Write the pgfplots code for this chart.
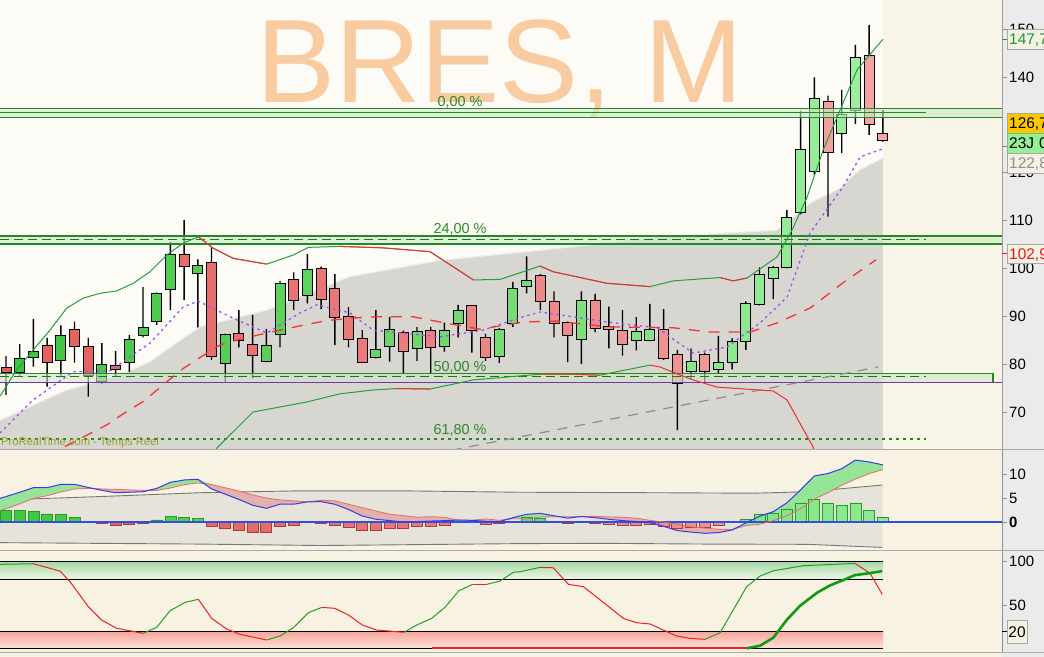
\documentclass[border=0pt]{standalone}
\usepackage{fontspec}
\setmainfont{Liberation Sans}
\usepackage{pgfplots}
\pgfplotsset{compat=1.18}
\usepackage{pgfplotstable}

\definecolor{rightbg}{HTML}{EBEBEB}
\definecolor{mainbg}{HTML}{FCFBF6}
\definecolor{mainbg2}{HTML}{F8F5E8}
\definecolor{panelbg}{HTML}{F7F2E1}
\definecolor{greyarea}{HTML}{D8D6D0}
\definecolor{greyedge}{HTML}{EEEEEE}
\definecolor{fibgreen}{HTML}{1E8C1E}
\definecolor{fibdash}{HTML}{2A6A2A}
\definecolor{fibfill}{HTML}{CFE6C8}
\definecolor{fibtext}{HTML}{2A8A2A}
\definecolor{titlecol}{HTML}{F8CBA0}
\definecolor{cgreenD}{HTML}{3FC43F}
\definecolor{cgreenL}{HTML}{9CEE9C}
\definecolor{credD}{HTML}{E45C5C}
\definecolor{credL}{HTML}{F5A5A5}
\definecolor{bbgreen}{HTML}{22A03C}
\definecolor{bbred}{HTML}{F03030}
\definecolor{mapurple}{HTML}{A050F5}
\definecolor{mared}{HTML}{F03535}
\definecolor{trendgrey}{HTML}{8C8C8C}
\definecolor{prtcol}{HTML}{9E9E28}
\definecolor{axisgrey}{HTML}{909090}
\definecolor{sepgrey}{HTML}{AAAAAA}
\definecolor{mbandfill}{HTML}{E6E3DA}
\definecolor{mbandline}{HTML}{777777}
\definecolor{hgreenD}{HTML}{279A27}
\definecolor{hgreenA}{HTML}{3FC83F}
\definecolor{hgreenB}{HTML}{8FEA8F}
\definecolor{hredD}{HTML}{B03A3A}
\definecolor{hredA}{HTML}{DE5656}
\definecolor{hredB}{HTML}{F4A0A0}
\definecolor{fgreen}{HTML}{96E496}
\definecolor{fred}{HTML}{E2B2AA}
\definecolor{mblue}{HTML}{3838F0}
\definecolor{zblue}{HTML}{2E4FE0}
\definecolor{sigred}{HTML}{E86A6A}
\definecolor{sgreenT}{HTML}{A8D8A8}
\definecolor{sgreenB}{HTML}{EEF6E4}
\definecolor{sredT}{HTML}{F7A49A}
\definecolor{sredB}{HTML}{FCE2DA}
\definecolor{kgreen}{HTML}{22A022}
\definecolor{kred}{HTML}{F02020}
\definecolor{dgreen}{HTML}{119911}
\definecolor{boxcream}{HTML}{F4F1E2}
\definecolor{boxborder}{HTML}{A8A8A8}
\definecolor{gold}{HTML}{FFC800}
\definecolor{boxgreen}{HTML}{96EE96}
\definecolor{valgreen}{HTML}{1A9A3A}
\definecolor{valgrey}{HTML}{8E8E8E}
\definecolor{valred}{HTML}{E81818}

\pgfplotstableread{
i o h l c
0 79.4 81.7 73.6 78.2
1 78.2 84.2 77.6 81.1
2 81.5 89.4 79.5 82.7
3 84.0 85.5 75.3 80.4
4 80.8 88.1 77.6 86.0
5 87.3 88.9 80.3 83.6
6 83.7 85.5 73.2 77.6
7 76.3 84.4 76.0 80.0
8 79.8 82.7 77.4 78.9
9 80.4 86.1 78.4 85.2
10 86.0 96.1 85.6 87.7
11 89.0 95.0 88.2 94.8
12 95.6 105.5 91.3 103.0
13 103.0 110.1 93.4 100.4
14 99.0 101.9 87.7 100.7
15 101.3 104.4 80.9 81.6
16 80.2 86.4 76.3 86.2
17 86.4 91.3 83.5 85.0
18 84.1 90.3 77.0 81.9
19 80.6 87.3 80.4 84.0
20 86.2 97.4 83.5 96.9
21 97.7 99.2 91.3 93.3
22 94.4 103.0 92.7 99.8
23 99.9 100.4 91.5 93.6
24 95.9 98.8 84.0 89.7
25 90.0 91.9 83.5 85.2
26 85.4 87.1 80.3 80.4
27 81.4 91.3 81.2 83.0
28 83.7 89.9 80.5 87.3
29 86.7 87.0 77.9 82.7
30 83.3 87.8 80.7 86.9
31 87.1 87.8 77.9 83.5
32 83.7 88.7 82.6 87.1
33 88.5 92.4 85.6 91.3
34 92.2 92.4 82.4 87.1
35 85.6 86.4 80.7 81.4
36 81.6 87.5 80.2 87.3
37 88.5 97.2 87.8 95.9
38 96.3 102.5 94.8 97.5
39 98.6 98.8 91.3 93.0
40 93.1 95.2 85.6 88.5
41 88.7 88.9 80.4 86.0
42 85.2 95.2 80.0 93.3
43 93.3 94.7 86.7 87.5
44 87.9 92.0 83.3 87.3
45 87.1 91.3 81.8 84.1
46 85.0 89.8 82.9 86.9
47 85.0 92.6 84.8 87.3
48 87.3 91.5 80.9 81.2
49 82.1 83.0 66.2 75.9
50 78.5 83.3 76.7 80.6
51 82.1 82.4 76.3 78.5
52 78.8 85.9 78.2 80.4
53 80.4 85.4 78.9 84.8
54 84.8 93.1 83.0 92.7
55 92.5 100.2 92.3 98.8
56 97.9 100.5 93.6 100.2
57 100.2 112.2 100.0 110.7
58 111.7 132.9 111.3 124.9
59 120.3 139.9 119.6 135.5
60 134.9 136.1 110.8 124.3
61 128.2 137.3 124.1 132.2
62 133.1 146.7 130.2 144.1
63 144.5 150.9 127.9 130.1
64 128.2 133.1 126.5 126.7
}\candles

\pgfplotstableread{
i m s
-0.44 4.93 2.36
0 5.3 2.8
1 6.2 3.77
2 7.15 4.95
3 7.15 5.48
4 7.85 6.25
5 7.85 6.88
6 7.2 7.0
7 6.6 6.88
8 6.1 6.8
9 6.2 6.69
10 6.3 6.58
11 7.0 6.58
12 8.26 7.08
13 8.75 7.78
14 8.9 8.14
15 6.9 7.8
16 5.8 7.12
17 4.7 6.44
18 3.5 5.65
19 2.85 5.0
20 3.7 4.6
21 3.7 4.4
22 4.2 4.2
23 4.24 4.52
24 3.7 4.4
25 2.6 3.7
26 1.25 2.99
27 0.56 2.3
28 0.3 1.62
29 0.0 1.32
30 0.1 1.0
31 0.2 1.1
32 0.28 0.98
33 0.4 0.4
34 0.35 0.35
35 0.15 0.64
36 0.07 0.35
37 0.9 0.7
38 1.6 0.63
39 1.8 1.04
40 1.3 1.1
41 0.8 1.08
42 1.15 1.15
43 0.9 1.18
44 0.55 1.04
45 0.3 1.0
46 0.1 0.8
47 -0.15 0.34
48 -0.9 0.0
49 -1.8 -0.48
50 -2.1 -1.0
51 -2.36 -1.26
52 -2.2 -1.5
53 -1.67 -1.57
54 -0.2 -0.75
55 1.2 -0.47
56 2.15 0.28
57 4.0 1.3
58 6.7 2.74
59 9.6 4.8
60 10.1 6.14
61 11.1 7.63
62 12.9 8.94
63 12.5 10.07
64 11.9 10.93
}\macd

\pgfplotstableread{
i h
0 2.5
1 2.43
2 2.2
3 1.67
4 1.6
5 0.97
6 0.2
7 -0.28
8 -0.7
9 -0.49
10 -0.28
11 0.42
12 1.18
13 0.97
14 0.76
15 -0.9
16 -1.32
17 -1.74
18 -2.15
19 -2.15
20 -0.9
21 -0.7
22 0
23 -0.28
24 -0.7
25 -1.1
26 -1.74
27 -1.74
28 -1.32
29 -1.32
30 -0.9
31 -0.9
32 -0.7
33 0
34 0
35 -0.49
36 -0.28
37 0.2
38 0.97
39 0.76
40 0.2
41 -0.28
42 0
43 -0.28
44 -0.49
45 -0.7
46 -0.7
47 -0.49
48 -0.9
49 -1.32
50 -1.1
51 -1.1
52 -0.7
53 -0.1
54 0.55
55 1.67
56 1.87
57 2.7
58 3.96
59 4.8
60 3.96
61 3.47
62 3.96
63 2.43
64 0.97
}\hist

\pgfplotsset{
  mainax/.style={at={(0bp,207bp)}, anchor=south west, scale only axis, width=1002bp, height=450bp, xmin=-0.44, xmax=72.7, ymin=62.06, ymax=156.09},
  macdax/.style={at={(0bp,106bp)}, anchor=south west, scale only axis, width=1002bp, height=101bp, xmin=-0.44, xmax=72.7, ymin=-6.04, ymax=15.0},
  stoax/.style={at={(0bp,4bp)}, anchor=south west, scale only axis, width=1002bp, height=102bp, xmin=-0.44, xmax=72.7, ymin=-5.4, ymax=112.4},
  rightticks/.style={axis x line=none, axis y line*=right, axis line style={draw=axisgrey, line width=0.8bp}, tick align=outside, major tick length=5bp, tick style={draw=axisgrey, line width=0.8bp}, yticklabel style={font=\fontsize{15}{15}\selectfont, text=black, inner sep=0pt, xshift=2bp}, /pgf/number format/assume math mode=true},
}

\begin{document}
\begin{tikzpicture}[x=1bp,y=1bp]
\fill[rightbg] (0bp,0bp) rectangle (1044bp,657bp);
\useasboundingbox (0bp,0bp) rectangle (1044bp,657bp);
\fill[panelbg] (0bp,0bp) rectangle (1002bp,4bp);

% ---------- main panel: background layer ----------
\begin{axis}[mainax, rightticks, ytick={70,80,90,100,110,120,140,150}, axis background/.style={fill=mainbg}]
\addplot[draw=none, fill=mainbg2] coordinates {(64.02,50) (80,50) (80,170) (64.02,170)} -- cycle;
\node[anchor=base west, inner sep=0pt, text=titlecol, font=\fontsize{119}{119}\selectfont] at (rel axis cs:0.2555,0.7733) {BRES, M};
\addplot[draw=none, fill=greyarea] coordinates {(-0.44,68.3) (4.43,74.6) (8.08,77.4) (10.5,80.5) (12.2,84.0) (14.16,87.8) (19.03,91.3) (25.11,98.3) (31.68,101.7) (38.98,103.8) (47.74,106.6) (56.28,108.0) (58.7,113.7) (60.88,116.8) (62.3,120.6) (64.01,123.1) (64.01,50) (-0.44,50)} -- cycle;
\addplot[greyedge, line width=1.2bp] coordinates {(-0.44,68.3) (4.43,74.6) (8.08,77.4) (10.5,80.5) (12.2,84.0) (14.16,87.8) (19.03,91.3) (25.11,98.3) (31.68,101.7) (38.98,103.8) (47.74,106.6) (56.28,108.0) (58.7,113.7) (60.88,116.8) (62.3,120.6) (64.01,123.1)};
\end{axis}

% ---------- wicks ----------
\begin{axis}[mainax, hide axis, ybar stacked, bar width=1.4bp]
\addplot[draw=none, fill=none] table[x=i, y=l] \candles;
\addplot[draw=none, fill=black] table[x=i, y expr=\thisrow{h}-\thisrow{l}] \candles;
\end{axis}

% ---------- bodies ----------
\begin{axis}[mainax, hide axis, ybar stacked, bar width=10bp]
\addplot[draw=none, fill=none] table[x=i, y expr={min(\thisrow{o},\thisrow{c})}] \candles;
\addplot[draw=black, line width=0.9bp, left color=cgreenD, right color=cgreenL] table[x=i, y expr={max(\thisrow{c}-\thisrow{o},0)}] \candles;
\addplot[draw=black, line width=0.9bp, left color=credD, right color=credL] table[x=i, y expr={max(\thisrow{o}-\thisrow{c},0)}] \candles;
\end{axis}

% ---------- overlays ----------
\begin{axis}[mainax, hide axis]
\addplot[draw=none, fill=fibfill, fill opacity=0.6] coordinates {(-0.44,131.58) (72.7,131.58) (72.7,133.45) (-0.44,133.45)} -- cycle;
\addplot[fibgreen, line width=1.1bp] coordinates {(-0.44,133.45) (72.7,133.45)};
\addplot[fibgreen, line width=1.1bp] coordinates {(-0.44,132.54) (67.15,132.54)};
\addplot[fibgreen, line width=1.1bp] coordinates {(-0.44,131.58) (72.7,131.58)};
\addplot[draw=none, fill=fibfill, fill opacity=0.6] coordinates {(-0.44,105.11) (72.7,105.11) (72.7,106.78) (-0.44,106.78)} -- cycle;
\addplot[fibgreen, line width=1.1bp] coordinates {(-0.44,106.78) (72.7,106.78)};
\addplot[fibdash, line width=1bp, dash pattern=on 9bp off 5bp] coordinates {(-0.44,106.05) (67.15,106.05)};
\addplot[fibgreen, line width=1.1bp] coordinates {(-0.44,105.11) (72.7,105.11)};
\addplot[fibgreen, fill=fibfill, fill opacity=0.6, line width=1.1bp] coordinates {(-0.6,76.21) (72.04,76.21) (72.04,78.09) (-0.6,78.09)} -- cycle;
\addplot[fibdash, line width=1bp, dash pattern=on 9bp off 5bp] coordinates {(-0.44,77.32) (67.15,77.32)};
\addplot[mapurple!70!black, line width=1.1bp] coordinates {(-0.44,76.1) (72.7,76.1)};
\addplot[fibgreen, line width=2bp, dash pattern=on 2.5bp off 4.5bp] coordinates {(-0.44,64.4) (67.15,64.4)};
\addplot[trendgrey, line width=1.2bp, dash pattern=on 10bp off 8bp] coordinates {(32.5,62.0) (63.65,79.4)};
\addplot[bbgreen, line width=1bp] coordinates {(-0.44,73.3) (0.78,78.8) (1.99,83.0) (3.21,87.1) (4.43,91.7) (5.64,93.8) (6.86,94.8) (8.08,95.3) (9.29,96.9) (10.51,99.3) (11.73,102.8) (12.94,105.3) (14.04,106.6) (15.13,104.2) (16.59,102.1) (19.03,100.9) (20.97,102.8) (22.07,104.4) (24.38,104.6) (27.5,104.3) (30.95,103.5) (34.11,97.6) (36.06,97.7) (38.98,100.5) (39.95,99.3) (43.85,96.9) (47.01,96.2) (48.71,97.4) (52.12,98.1) (53.07,97.4) (54.09,98.0) (56.28,102.4) (57.37,108.0) (58.47,114.9) (59.64,124.7) (60.88,133.1) (62.12,141.5) (64.01,147.9)};
\addplot[bbred, line width=1bp] coordinates {(14.04,106.6) (15.13,104.2) (16.59,102.1) (19.03,100.9)};
\addplot[bbred, line width=1bp] coordinates {(24.38,104.6) (27.5,104.3) (30.95,103.5) (34.11,97.6)};
\addplot[bbred, line width=1bp] coordinates {(38.98,100.5) (39.95,99.3) (43.85,96.9) (47.01,96.2)};
\addplot[bbred, line width=1bp] coordinates {(52.12,98.1) (53.07,97.4) (54.09,98.0)};
\addplot[bbgreen, line width=1bp] coordinates {(14.5,57.9) (15.40,62.5) (18.03,70.0) (21.97,72.1) (24.38,73.8) (26.79,74.6) (28.5,74.9) (30.95,74.8) (34.09,76.7) (38.98,77.9) (41.39,77.9) (43.36,77.7) (47.01,79.8)};
\addplot[bbred, line width=1bp] coordinates {(28.5,74.9) (30.95,74.8)};
\addplot[bbred, line width=1bp] coordinates {(38.98,77.9) (41.39,77.9) (43.36,77.7)};
\addplot[bbred, line width=1bp] coordinates {(47.01,79.8) (47.74,79.4) (49.93,76.9) (51.90,75.2) (55.99,74.4) (57.01,72.5) (58.91,62.7) (59.4,57.9)};
\addplot[mapurple, line width=1.3bp, dash pattern=on 2.5bp off 3.5bp] coordinates {(-0.44,65.6) (1.97,72.5) (4.89,78.4) (7.59,78.6) (10.51,84.4) (12.92,91.9) (14.01,93.2) (16.57,89.6) (19.05,86.5) (21.46,90.7) (22.70,92.4) (25.11,90.7) (26.79,87.1) (31.68,85.7) (34.82,87.1) (37.74,89.9) (38.98,90.9) (41.39,89.9) (43.87,88.8) (47.52,87.6) (50.15,82.3) (52.63,83.6) (55.04,88.6) (57.01,94.0) (58.69,107.4) (61.09,117.0) (62.34,123.3) (64.01,125.0)};
\addplot[mared, line width=1.3bp, dash pattern=on 11bp off 9bp] coordinates {(3.0,60.8) (4.18,62.6) (7.35,67.3) (8.81,70.1) (10.02,72.2) (11.73,76.3) (12.94,79.1) (14.16,81.4) (15.62,84.0) (17.32,85.4) (19.51,86.8) (21.46,88.0) (23.41,89.1) (25.11,89.6) (27.0,89.9) (29.71,89.9) (31.68,88.8) (34.60,87.3) (37.74,88.8) (40.22,89.0) (43.87,87.8) (48.69,87.6) (51.39,86.7) (54.31,86.7) (56.28,88.6) (58.69,91.7) (61.09,97.0) (63.5,101.8)};
\node[anchor=base, inner sep=0pt, text=fibtext, font=\fontsize{14.5}{14.5}\selectfont] at (axis cs:33.14,133.8) {0,00 \%};
\node[anchor=base, inner sep=0pt, text=fibtext, font=\fontsize{14.5}{14.5}\selectfont] at (axis cs:33.14,107.2) {24,00 \%};
\node[anchor=base, inner sep=0pt, text=fibtext, font=\fontsize{14.5}{14.5}\selectfont] at (axis cs:33.14,78.42) {50,00 \%};
\node[anchor=base, inner sep=0pt, text=fibtext, font=\fontsize{14.5}{14.5}\selectfont] at (axis cs:33.14,65.2) {61,80 \%};
\node[anchor=base west, inner sep=0pt, text=prtcol, font=\fontsize{11.2}{11.2}\selectfont] at (rel axis cs:0.001,0.009) {ProRealTime.com - Temps Réel};
\end{axis}

% ---------- MACD panel: background, band ----------
\begin{axis}[macdax, rightticks, ytick={0,5,10}, yticklabels={\textbf{0},5,10}, axis background/.style={fill=panelbg}]
\addplot[draw=none, fill=mbandfill] coordinates {(-0.44,4.58) (6.86,5.3) (14.16,6.1) (21.46,6.5) (28.76,6.5) (37.52,6.2) (47.25,6.1) (54.55,6.0) (58.5,6.3) (63.96,7.7) (63.96,-5.3) (58.5,-4.65) (51.2,-4.6) (44.0,-4.45) (37.52,-4.5) (23.0,-4.9) (14.16,-4.6) (-0.44,-4.3)} -- cycle;
\addplot[mbandline, line width=0.9bp] coordinates {(-0.44,4.58) (6.86,5.3) (14.16,6.1) (21.46,6.5) (28.76,6.5) (37.52,6.2) (47.25,6.1) (54.55,6.0) (58.5,6.3) (63.96,7.7)};
\addplot[mbandline, line width=0.9bp] coordinates {(-0.44,-4.3) (14.16,-4.6) (23.0,-4.9) (37.52,-4.5) (44.0,-4.45) (51.2,-4.6) (58.5,-4.65) (63.96,-5.3)};
\end{axis}

% ---------- MACD fills (stacked on the signal line) ----------
\begin{axis}[macdax, hide axis, stack plots=y]
\addplot[draw=none] table[x=i, y=s] \macd;
\addplot[draw=none, fill=fgreen] table[x=i, y expr={max(\thisrow{m}-\thisrow{s},0)}] \macd \closedcycle;
\addplot[draw=none, fill=fred] table[x=i, y expr={min(\thisrow{m}-\thisrow{s},0)}] \macd \closedcycle;
\end{axis}

% ---------- MACD bars and lines ----------
\begin{axis}[macdax, hide axis]
\addplot[ybar, bar width=11bp, bar shift=0pt, draw=hgreenD, line width=0.8bp, left color=hgreenA, right color=hgreenB] table[x=i, y expr={max(\thisrow{h},0)}] \hist;
\addplot[ybar, bar width=11bp, bar shift=0pt, draw=hredD, line width=0.8bp, left color=hredA, right color=hredB] table[x=i, y expr={min(\thisrow{h},0)}] \hist;
\addplot[zblue, line width=1.1bp] coordinates {(-0.44,0) (72.7,0)};
\addplot[sigred, line width=0.8bp] table[x=i, y=s] \macd;
\addplot[mblue, line width=1bp] table[x=i, y=m] \macd;
\end{axis}

% ---------- Stochastic panel ----------
\begin{axis}[stoax, rightticks, ytick={50,100}, axis background/.style={fill=panelbg}]
\addplot[draw=none, top color=sgreenT, bottom color=sgreenB] coordinates {(-0.44,80) (64.02,80) (64.02,100) (-0.44,100)} -- cycle;
\addplot[draw=none, top color=sredT, bottom color=sredB] coordinates {(-0.44,0) (64.02,0) (64.02,20) (-0.44,20)} -- cycle;
\addplot[black, line width=1bp] coordinates {(-0.44,100) (64.02,100)};
\addplot[black, line width=1bp] coordinates {(-0.44,80) (64.02,80)};
\addplot[black, line width=1bp] coordinates {(-0.44,20) (64.02,20)};
\addplot[black, line width=1bp] coordinates {(-0.44,0) (64.02,0)};
\addplot[kgreen, line width=1bp] coordinates {(-0.44,97) (1.99,97.7)};
\addplot[kred, line width=1bp] coordinates {(1.99,97.7) (3.94,89.2) (4.67,77) (6.01,48) (6.98,32.7) (8.08,23.1) (10.02,17.3)};
\addplot[kgreen, line width=1bp] coordinates {(10.02,17.3) (11.0,24.2) (11.97,43.4) (13.07,53.1) (14.04,56.6)};
\addplot[kred, line width=1bp] coordinates {(14.04,56.6) (15.01,34.6) (16.11,22.3) (17.08,16.2) (19.03,9.6)};
\addplot[kgreen, line width=1bp] coordinates {(19.03,9.6) (20.0,14.2) (20.97,23.8) (22.07,41.1) (23.04,47.3)};
\addplot[kred, line width=1bp] coordinates {(23.04,47.3) (24.0,46.2) (24.99,38.5) (26.01,26.9) (27.06,21.1) (29.05,18.5)};
\addplot[kgreen, line width=1bp] coordinates {(29.05,18.5) (29.98,26.9) (31.07,34.6) (32.04,47.3) (33.06,66.5) (34.06,73.9)};
\addplot[kred, line width=1bp] coordinates {(34.06,73.9) (35.09,73.9)};
\addplot[kgreen, line width=1bp] coordinates {(35.09,73.9) (36.06,77.7) (37.03,87.8) (37.52,88.5) (38.98,93.5)};
\addplot[kred, line width=1bp] coordinates {(38.98,93.5) (39.95,93) (41.05,73.9) (42.14,71.2) (43.6,53.1) (45.06,34.6) (46.03,29.6) (47.01,28.1) (48.95,14.2) (49.93,11.5) (51.02,10.4)};
\addplot[kgreen, line width=1bp] coordinates {(51.02,10.4) (52.12,18) (54.06,71.2) (55.04,83.5) (56.01,89.6) (58.2,95.4) (61.97,98.1)};
\addplot[kred, line width=1bp] coordinates {(61.97,98.1) (63.07,86.6) (63.96,62.3)};
\addplot[kred, line width=2bp] coordinates {(31.07,0) (54.06,0)};
\addplot[dgreen, line width=2.6bp] coordinates {(54.06,0) (55.04,3) (56.01,12.3) (56.98,32.7) (57.96,49.2) (59.2,64.2) (60.15,72.7) (61.12,78.9) (61.97,84.6) (62.94,86.6) (63.96,89.2)};
\end{axis}

\draw[sepgrey, line width=1bp] (0bp,207.5bp) -- (1044bp,207.5bp);
\draw[sepgrey, line width=1bp] (0bp,106bp) -- (1044bp,106bp);
\draw[sepgrey, line width=1bp] (0bp,4bp) -- (1044bp,4bp);

\begin{scope}[font=\fontsize{15.5}{15.5}\selectfont]
\draw[valgreen, line width=1bp] (1002bp,617bp) -- (1007bp,617bp);
\draw[mapurple, line width=1bp] (1002bp,510bp) -- (1007bp,510bp);
\draw[valred, line width=1bp] (1002bp,403bp) -- (1007bp,403bp);
\draw[black, line width=1bp] (1002bp,25.5bp) -- (1007bp,25.5bp);
\node[anchor=west, draw=boxborder, fill=boxcream, text=valgreen, inner xsep=2.5bp, inner ysep=0pt, minimum height=20bp, text width=60bp, text height=11bp, text depth=0pt] at (1006.5bp,617.5bp) {147,7};
\node[anchor=west, draw=boxborder, fill=gold, text=black, inner xsep=2.5bp, inner ysep=0pt, minimum height=20bp, text width=60bp, text height=11bp, text depth=0pt] at (1006.5bp,534bp) {126,7};
\node[anchor=west, draw=boxgreen!80!black, fill=boxgreen, text=black, inner xsep=2.5bp, inner ysep=0pt, minimum height=20bp, text width=60bp, text height=11bp, text depth=0pt] at (1006.5bp,514bp) {23J 05};
\node[anchor=west, draw=boxborder, fill=boxcream, text=valgrey, inner xsep=2.5bp, inner ysep=0pt, minimum height=20bp, text width=60bp, text height=11bp, text depth=0pt] at (1006.5bp,494bp) {122,8};
\node[anchor=west, draw=boxborder, fill=boxcream, text=valred, inner xsep=2.5bp, inner ysep=0pt, minimum height=19bp, text width=60bp, text height=11bp, text depth=0pt] at (1006.5bp,403bp) {102,9};
\node[anchor=center, draw=boxborder, fill=boxcream, text=black, inner sep=0pt, minimum height=23bp, minimum width=20bp, text height=11bp, text depth=0pt] at (1017bp,25.5bp) {20};
\end{scope}
\end{tikzpicture}
\end{document}
